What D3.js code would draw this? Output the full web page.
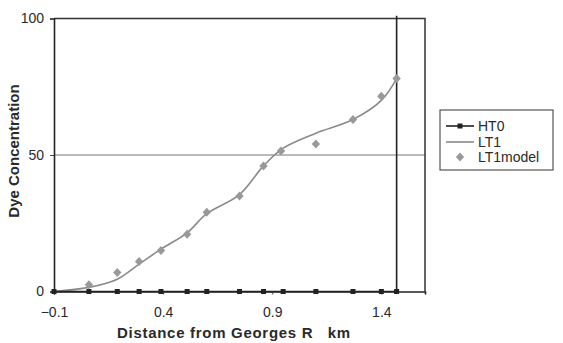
<!DOCTYPE html>
<html>
<head>
<meta charset="utf-8">
<script src="https://cdn.jsdelivr.net/npm/d3@7"></script>
<style>
  body { margin: 0; background: #fff; }
  text { font-family: "Liberation Sans", Arial, sans-serif; fill: #2a2a2a; }
</style>
</head>
<body>
<div id="chart"></div>
<script>
// distances along the river (km)
var distHT0 = [-0.1, 0.06, 0.19, 0.29, 0.39, 0.51, 0.6, 0.75, 0.86, 0.95, 1.1, 1.27, 1.4, 1.47, 1.47];
var valHT0 = [0, 0, 0, 0, 0, 0, 0, 0, 0, 0, 0, 0, 0, 0, 101];

var distLT1 = [-0.1, 0.06, 0.19, 0.29, 0.39, 0.51, 0.6, 0.75, 0.86, 0.95, 1.1, 1.27, 1.4, 1.47];
var valLT1 = [0, 1.5, 4.5, 10, 15.5, 21.5, 28.5, 35.5, 46, 52.5, 58, 63, 70, 78];

var distModel = [0.06, 0.19, 0.29, 0.39, 0.51, 0.6, 0.75, 0.86, 0.94, 1.1, 1.27, 1.4, 1.47];
var valModel = [2.5, 7, 11, 15, 21, 29, 35, 46, 51.5, 54, 63, 71.5, 78];

var xTicks = [-0.1, 0.4, 0.9, 1.4];
var yTicks = [0, 50, 100];
var legendNames = ["HT0", "LT1", "LT1model"];

var W = 563, H = 343;
var margin = { top: 18.5, right: 138, bottom: 51.5, left: 54 },
    width = W - margin.left - margin.right,
    height = H - margin.top - margin.bottom;

var svg = d3.select("#chart")
    .append("svg")
    .attr("width", W)
    .attr("height", H);

var g = svg.append("g")
    .attr("transform", "translate(" + margin.left + "," + margin.top + ")");

var x = d3.scaleLinear().domain([-0.1, 1.6]).range([0, width]);
var y = d3.scaleLinear().domain([0, 100]).range([height, 0]);

// gridline at 50
g.append("line")
    .attr("x1", 0).attr("x2", width)
    .attr("y1", y(50)).attr("y2", y(50))
    .attr("stroke", "#777").attr("stroke-width", 1);

// plot border top / right
g.append("path")
    .attr("d", "M0," + y(100) + "H" + width + "V" + height)
    .attr("fill", "none").attr("stroke", "#333").attr("stroke-width", 1.5);

// axes
var xAxis = g.append("g")
    .attr("transform", "translate(0," + height + ")")
    .call(d3.axisBottom(x).tickValues(xTicks).tickSize(3).tickFormat(d3.format(".1f")));
var yAxis = g.append("g")
    .call(d3.axisLeft(y).tickValues(yTicks).tickSize(4).tickFormat(d3.format("d")));

[xAxis, yAxis].forEach(function (a) {
    a.select(".domain").attr("stroke", "#222").attr("stroke-width", 1.6);
    a.selectAll(".tick line").attr("stroke", "#444");
    a.selectAll(".tick text").style("font-size", "14px").attr("fill", "#2a2a2a");
});
xAxis.selectAll(".tick text").attr("dy", "1.4em");
yAxis.selectAll(".tick text").attr("x", -10);

// LT1 smooth line
var lt1 = distLT1.map(function (d, i) { return [d, valLT1[i]]; });
g.append("path")
    .datum(lt1)
    .attr("fill", "none")
    .attr("stroke", "#8a8a8a")
    .attr("stroke-width", 1.6)
    .attr("d", d3.line()
        .x(function (d) { return x(d[0]); })
        .y(function (d) { return y(d[1]); })
        .curve(d3.curveCatmullRom.alpha(0.5)));

// HT0 line
var ht0 = distHT0.map(function (d, i) { return [d, valHT0[i]]; });
g.append("path")
    .datum(ht0)
    .attr("fill", "none")
    .attr("stroke", "#222")
    .attr("stroke-width", 1.6)
    .attr("d", d3.line()
        .x(function (d) { return x(d[0]); })
        .y(function (d) { return y(d[1]); }));

g.selectAll(".sq")
    .data(ht0.filter(function (d) { return d[1] <= 100; }))
    .enter().append("rect")
    .attr("class", "sq")
    .attr("x", function (d) { return x(d[0]) - 2.5; })
    .attr("y", function (d) { return y(d[1]) - 2.5; })
    .attr("width", 5).attr("height", 5)
    .attr("fill", "#222");

// LT1model diamonds (squat rotated squares)
var model = distModel.map(function (d, i) { return [d, valModel[i]]; });
var diamond = "M0,-4.5L4.2,0L0,4.5L-4.2,0Z";
g.selectAll(".dm")
    .data(model)
    .enter().append("path")
    .attr("class", "dm")
    .attr("transform", function (d) { return "translate(" + x(d[0]) + "," + y(d[1]) + ")"; })
    .attr("d", diamond)
    .attr("fill", "#999");

// axis titles
svg.append("text")
    .attr("x", 234).attr("y", 338)
    .attr("text-anchor", "middle")
    .style("font-size", "15px").style("font-weight", "bold")
    .style("letter-spacing", "0.7px")
    .style("white-space", "pre")
    .text("Distance from Georges R   km");

svg.append("text")
    .attr("transform", "translate(19,151) rotate(-90)")
    .attr("text-anchor", "middle")
    .style("font-size", "15px").style("font-weight", "bold")
    .text("Dye Concentration");

// legend
var lg = svg.append("g").attr("transform", "translate(440,110)");
lg.append("rect")
    .attr("width", 113).attr("height", 60)
    .attr("fill", "#fff").attr("stroke", "#333").attr("stroke-width", 1);

var rowY = [16, 32, 47];
legendNames.forEach(function (name, i) {
    var r = lg.append("g").attr("transform", "translate(0," + rowY[i] + ")");
    if (i === 0) {
        r.append("line").attr("x1", 6).attr("x2", 34).attr("stroke", "#222").attr("stroke-width", 1.6);
        r.append("rect").attr("x", 17.5).attr("y", -2.5).attr("width", 5).attr("height", 5).attr("fill", "#222");
    } else if (i === 1) {
        r.append("line").attr("x1", 6).attr("x2", 34).attr("stroke", "#8a8a8a").attr("stroke-width", 1.6);
    } else {
        r.append("path").attr("transform", "translate(20,0)").attr("d", diamond).attr("fill", "#999");
    }
    r.append("text")
        .attr("x", 38).attr("y", 5)
        .style("font-size", "14px")
        .text(name);
});
</script>
</body>
</html>
